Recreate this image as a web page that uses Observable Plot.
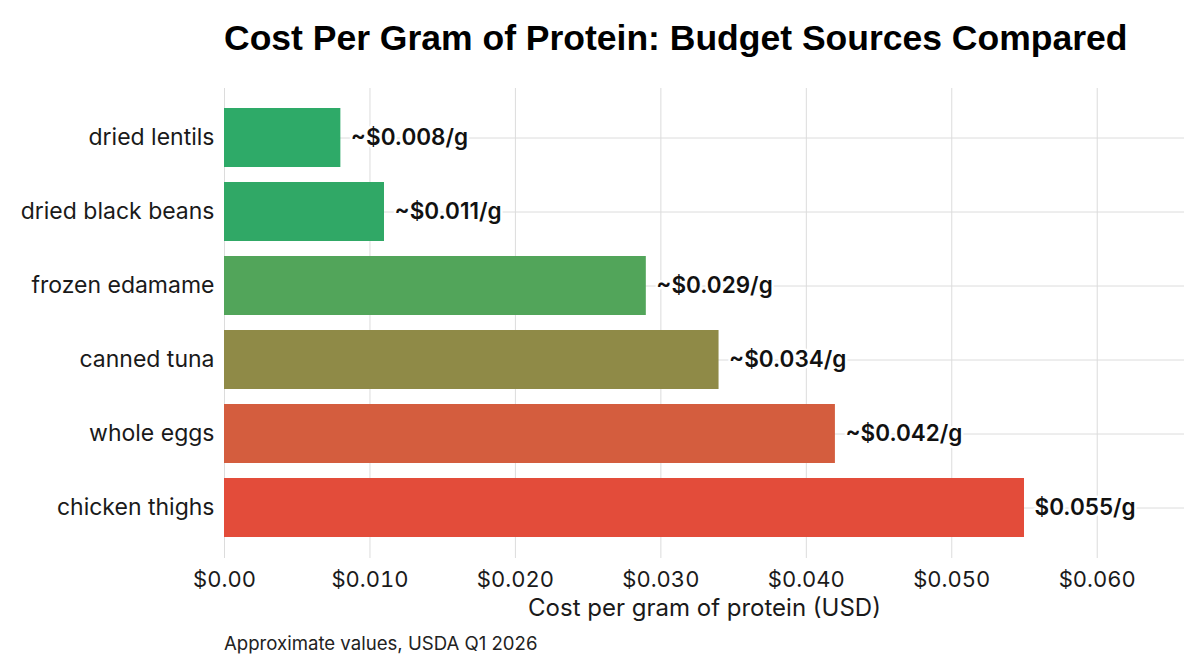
<!DOCTYPE html>
<html>
<head>
<meta charset="utf-8">
<script src="https://cdn.jsdelivr.net/npm/d3@7"></script>
<script src="https://cdn.jsdelivr.net/npm/@observablehq/plot@0.6"></script>
<style>
  html, body { margin: 0; background: #fff; }
  #chart { position: relative; width: 1204px; height: 672px; overflow: hidden; font-family: Inter, sans-serif; color: #1a1a1a; }
  #title { position: absolute; left: 224px; top: 21px; font: bold 35.5px/1 "Liberation Sans", Arial, sans-serif; white-space: nowrap; color: #000; }
  #plot { position: absolute; left: 0; top: 80px; }
  #caption { position: absolute; left: 224px; top: 634px; font-size: 18.6px; line-height: 1; color: #222; white-space: nowrap; }
</style>
</head>
<body>
<div id="chart">
  <div id="title">Cost Per Gram of Protein: Budget Sources Compared</div>
  <div id="plot"></div>
  <div id="caption">Approximate values, USDA Q1 2026</div>
</div>
<script>
// Protein sources, cheapest first
const foods = ["dried lentils", "dried black beans", "frozen edamame", "canned tuna", "whole eggs", "chicken thighs"];
// Cost in USD per gram of protein
const costs = [0.008, 0.011, 0.029, 0.034, 0.042, 0.055];
// Value labels printed at the end of each bar
const valueLabels = ["~$0.008/g", "~$0.011/g", "~$0.029/g", "~$0.034/g", "~$0.042/g", "$0.055/g"];
// Axis ticks
const xTicks = [0, 0.01, 0.02, 0.03, 0.04, 0.05, 0.06];

// Bar palette, green (cheap) to red (expensive)
const barColors = ["#2eaa68", "#30a866", "#52a55a", "#8f8a47", "#d45d3e", "#e34c3a"];

const rows = foods.map((food, i) => ({ food, cost: costs[i], label: valueLabels[i] }));
const dollars = d => d === 0 ? "$0.00" : "$" + d.toFixed(3);

const chart = Plot.plot({
  width: 1204,
  height: 545,
  marginLeft: 224,
  marginRight: 20,
  marginTop: 8,
  marginBottom: 67,
  style: { fontFamily: "Inter, sans-serif", fontSize: "22px", color: "#1a1a1a", background: "#fff" },
  x: { domain: [0, 0.066], tickFormat: dollars, label: null },
  y: { domain: foods, paddingInner: 0.2, paddingOuter: 0.275, label: null },
  color: { domain: foods, range: barColors },
  marks: [
    Plot.gridX(xTicks, { stroke: "#dcdcdc", strokeOpacity: 1 }),
    Plot.gridY({ stroke: "#dcdcdc", strokeOpacity: 1 }),
    Plot.axisX(xTicks, { tickSize: 0, tickPadding: 13, tickFormat: dollars, label: null }),
    Plot.axisY({ tickSize: 0, tickPadding: 10, fontSize: 23, label: null }),
    Plot.barX(rows, { x: "cost", y: "food", fill: "food" }),
    Plot.text(rows, {
      x: "cost", y: "food", text: "label",
      dx: 10, textAnchor: "start", fontWeight: 600, fontSize: 22.5, fill: "#111",
      stroke: "#fff", strokeWidth: 5
    }),
    Plot.text(["Cost per gram of protein (USD)"], { frameAnchor: "bottom", dy: 57, fontSize: 24, fill: "#1a1a1a" })
  ]
});

document.getElementById("plot").appendChild(chart);
</script>
</body>
</html>
